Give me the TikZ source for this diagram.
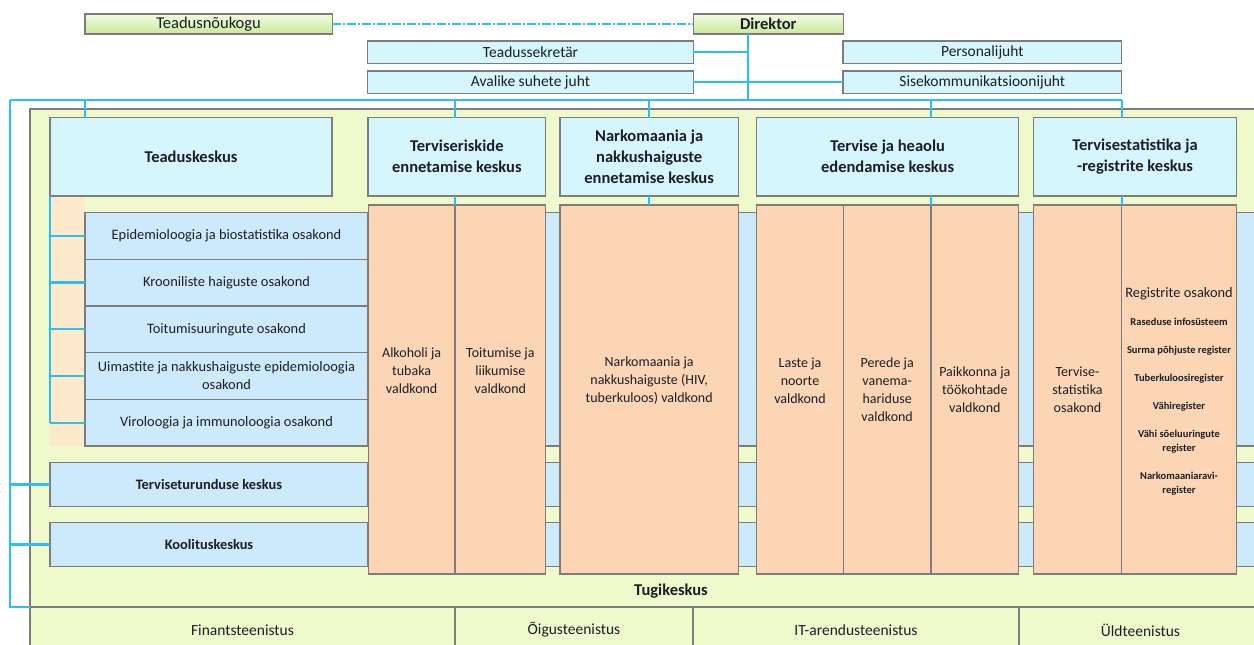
\documentclass[tikz,border=0pt]{standalone}
\usepackage{fontspec}
\setmainfont{Carlito}
\usetikzlibrary{positioning}

\definecolor{framegray}{RGB}{125,125,125}
\definecolor{inkgray}{RGB}{30,30,40}
\definecolor{linkcyan}{RGB}{45,190,242}
\definecolor{leafhi}{RGB}{242,250,225}
\definecolor{leaflo}{RGB}{202,234,152}
\definecolor{keskcyan}{RGB}{213,246,252}
\definecolor{osakblue}{RGB}{205,233,252}
\definecolor{valdpeach}{RGB}{251,213,180}
\definecolor{stripeach}{RGB}{253,234,204}
\definecolor{tugigreen}{RGB}{239,249,204}

\begin{document}
\begin{tikzpicture}
		[x=1pt, y=-1pt,
		every node/.style={inner sep=0pt, outer sep=0pt, align=center, text=inkgray, font=\fontsize{14}{18}\selectfont},
		box/.style={rectangle, draw=framegray, line width=1.4pt},
		council/.style={box, top color=leafhi, bottom color=leaflo, minimum height=20, font=\fontsize{16.5}{18}\selectfont},
		staff/.style={box, fill=keskcyan, minimum height=22.3, font=\fontsize{15.5}{18}\selectfont},
		keskus/.style={box, fill=keskcyan, minimum height=78.5, font=\bfseries\fontsize{16.5}{21}\selectfont},
		osakond/.style={box, fill=osakblue, minimum width=283, minimum height=46.7, font=\fontsize{14.4}{18}\selectfont},
		valdkond/.style={box, fill=valdpeach, minimum height=369},
		teenistus/.style={box, fill=tugigreen, minimum height=46, font=\fontsize{15.5}{18}\selectfont},
		band/.style={draw=framegray, line width=1.4pt, fill=osakblue},
		link/.style={draw=linkcyan, line width=2.2pt}]
		\useasboundingbox (0,0) rectangle (1254,645);

		% tugikeskus and the bands behind the columns
		\node[box, fill=tugigreen, minimum width=1232, minimum height=498] (tugi) at (646,358) {};
		\fill[stripeach] (50,196) rectangle (85,446);
		\draw[band] (85,212.5) rectangle (1262,446);
		\draw[band] (50,462.5) rectangle (1262,506.5);
		\draw[band] (50,522.5) rectangle (1262,566.5);
		\node[font=\bfseries\fontsize{16.5}{18}\selectfont] (tugit) at (671,591) {Tugikeskus};

		% juhtkond
		\node[council, minimum width=247.3] (tnk) at (208.6,24) {Teadusnõukogu};
		\node[council, minimum width=150, font=\bfseries\fontsize{16.5}{18}\selectfont] (dir) at (768.3,24) {Direktor};
		\node[staff, minimum width=325.6] (tsekr) at (530.5,52.2) {Teadussekretär};
		\node[staff, minimum width=325.6] (avs) at (530.5,82.2) {Avalike suhete juht};
		\node[staff, minimum width=278.7] (pers) at (982.3,52.2) {Personalijuht};
		\node[staff, minimum width=278.7] (sisek) at (982.3,82.2) {Sisekommunikatsioonijuht};

		% keskused
		\node[keskus, minimum width=282] (teadus) at (191,156.75) {Teaduskeskus};
		\node[keskus, minimum width=177.7] (trisk) at (456.85,156.75) {Terviseriskide\\ennetamise keskus};
		\node[keskus, minimum width=178.3] (nark) at (649.15,156.75) {Narkomaania ja\\nakkushaiguste\\ennetamise keskus};
		\node[keskus, minimum width=261.8] (teh) at (887.6,156.75) {Tervise ja heaolu\\edendamise keskus};
		\node[keskus, minimum width=203.4] (tstatk) at (1135,156.75) {Tervisestatistika ja\\-registrite keskus};

		% teaduskeskuse osakonnad
		\node[osakond] (ep) at (226.5,235.85) {Epidemioloogia ja biostatistika osakond};
		\node[osakond, below=0pt of ep] (kr) {Krooniliste haiguste osakond};
		\node[osakond, below=0pt of kr] (to) {Toitumisuuringute osakond};
		\node[osakond, below=0pt of to] (ui) {Uimastite ja nakkushaiguste epidemioloogia\\osakond};
		\node[osakond, below=0pt of ui] (vi) {Viroloogia ja immunoloogia osakond};

		\node[osakond, minimum width=318, minimum height=44, font=\bfseries\fontsize{14.4}{18}\selectfont] (tturu) at (209,484.5) {Terviseturunduse keskus};
		\node[osakond, minimum width=318, minimum height=44, font=\bfseries\fontsize{14.4}{18}\selectfont] (kool) at (209,544.5) {Koolituskeskus};

		% valdkonnad
		\node[valdkond, minimum width=86.7] (alk) at (411.65,389.5) {};
		\node[valdkond, minimum width=90.7, right=0pt of alk] (toit) {};
		\node[valdkond, minimum width=178.3] (narkv) at (649.15,389.5) {};
		\node[valdkond, minimum width=86.6] (laste) at (800,389.5) {};
		\node[valdkond, minimum width=87.7, right=0pt of laste] (perede) {};
		\node[valdkond, minimum width=87.7, right=0pt of perede] (paikk) {};
		\node[valdkond, minimum width=88.4] (tstat) at (1077.5,389.5) {};
		\node[valdkond, minimum width=115, right=0pt of tstat] (reg) {};

		\node (alkt) at (411.65,371) {Alkoholi ja\\tubaka\\valdkond};
		\node (toitt) at (toit |- alkt) {Toitumise ja\\liikumise\\valdkond};
		\node (narkt) at (649.15,381) {Narkomaania ja\\nakkushaiguste (HIV,\\tuberkuloos) valdkond};
		\node (lastet) at (laste |- narkt) {Laste ja\\noorte\\valdkond};
		\node (peredet) at (perede) {Perede ja\\vanema-\\hariduse\\valdkond};
		\node (paikkt) at (paikk) {Paikkonna ja\\töökohtade\\valdkond};
		\node (tstatt) at (tstat) {Tervise-\\statistika\\osakond};
		\node[font=\bfseries\fontsize{10.5}{14}\selectfont] (regt) at (1179,391)
			{{\mdseries\fontsize{14.4}{14}\selectfont Registrite osakond}\\[14pt]
			Raseduse infosüsteem\\[14pt]
			Surma põhjuste register\\[14pt]
			Tuberkuloosiregister\\[14pt]
			Vähiregister\\[14pt]
			Vähi sõeluuringute\\register\\[14pt]
			Narkomaaniaravi-\\register};

		% teenistused
		\node[teenistus, minimum width=425] (fin) at (242.5,630) {Finantsteenistus};
		\node[teenistus, minimum width=238, right=0pt of fin] (oig) {Õigusteenistus};
		\node[teenistus, minimum width=326, right=0pt of oig] (it) {IT-arendusteenistus};
		\node[teenistus, minimum width=243, right=0pt of it] (uld) {Üldteenistus};

		% alluvus
		\coordinate (trunk) at (747.7,100);
		\coordinate (busl) at (10,100);
		\draw[link, dash pattern=on 9pt off 2pt on 2pt off 2pt] (tnk) -- (dir);
		\draw[link] (trunk |- dir.south) -- (trunk);
		\draw[link] (tsekr.east) -- (tsekr.east -| trunk);
		\draw[link] (avs) -- (sisek);
		\draw[link] (busl) -- (tstat.east |- busl);
		\draw[link] (ep.west |- busl) -- (ep.west |- teadus.north);
		\draw[link] (alk.east |- busl) -- (alk.east |- trisk.north);
		\draw[link] (nark.north |- busl) -- (nark.north);
		\draw[link] (perede.east |- busl) -- (perede.east |- teh.north);
		\draw[link] (tstat.east |- busl) -- (tstat.east |- tstatk.north);
		\draw[link] (alk.east |- trisk.south) -- (alk.north east);
		\draw[link] (nark.south) -- (narkv.north);
		\draw[link] (perede.east |- teh.south) -- (perede.north east);
		\draw[link] (tstat.east |- tstatk.south) -- (tstat.north east);
		\draw[link] (busl) -- (busl |- tugi.south) -- (tugi.south west);
		\draw[link] (busl |- tturu.west) -- (tturu.west);
		\draw[link] (busl |- kool.west) -- (kool.west);
		\draw[link] (teadus.south west) -- (teadus.south west |- vi.west);
		\foreach \o in {ep,kr,to,ui,vi}
			\draw[link] (teadus.south west |- \o.west) -- (\o.west);
	\end{tikzpicture}
\end{document}
